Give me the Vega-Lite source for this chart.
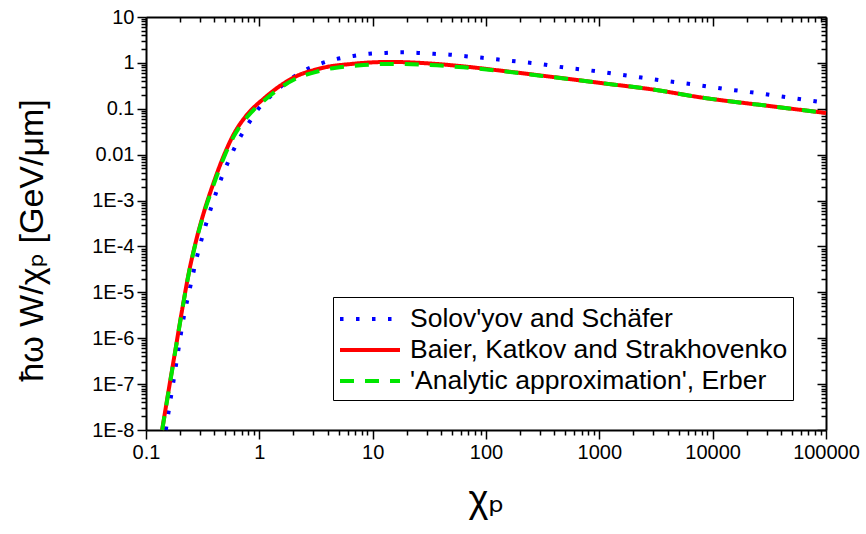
{
  "$schema": "https://vega.github.io/schema/vega-lite/v6.json",
  "width": 680,
  "height": 413,
  "autosize": {"type": "none"},
  "padding": {"left": 146, "top": 17, "right": 40, "bottom": 104},
  "background": "white",
  "config": {"view": {"stroke": null}, "font": "Liberation Sans"},
  "data": {"values": [
    {"x": 0.1496, "y": 1e-8, "s": "Solov'yov and Schäfer"},
    {"x": 0.155, "y": 1.8e-8, "s": "Solov'yov and Schäfer"},
    {"x": 0.172, "y": 9.1e-8, "s": "Solov'yov and Schäfer"},
    {"x": 0.191, "y": 4.7e-7, "s": "Solov'yov and Schäfer"},
    {"x": 0.212, "y": 2.34e-6, "s": "Solov'yov and Schäfer"},
    {"x": 0.243, "y": 1.17e-5, "s": "Solov'yov and Schäfer"},
    {"x": 0.282, "y": 6.0e-5, "s": "Solov'yov and Schäfer"},
    {"x": 0.339, "y": 3.1e-4, "s": "Solov'yov and Schäfer"},
    {"x": 0.418, "y": 1.55e-3, "s": "Solov'yov and Schäfer"},
    {"x": 0.472, "y": 3.5e-3, "s": "Solov'yov and Schäfer"},
    {"x": 0.543, "y": 7.9e-3, "s": "Solov'yov and Schäfer"},
    {"x": 0.635, "y": 0.018, "s": "Solov'yov and Schäfer"},
    {"x": 0.773, "y": 0.041, "s": "Solov'yov and Schäfer"},
    {"x": 0.959, "y": 0.093, "s": "Solov'yov and Schäfer"},
    {"x": 1.26, "y": 0.19, "s": "Solov'yov and Schäfer"},
    {"x": 1.78, "y": 0.40, "s": "Solov'yov and Schäfer"},
    {"x": 2.49, "y": 0.68, "s": "Solov'yov and Schäfer"},
    {"x": 3.44, "y": 0.955, "s": "Solov'yov and Schäfer"},
    {"x": 4.84, "y": 1.22, "s": "Solov'yov and Schäfer"},
    {"x": 6.7, "y": 1.41, "s": "Solov'yov and Schäfer"},
    {"x": 9.33, "y": 1.58, "s": "Solov'yov and Schäfer"},
    {"x": 13.0, "y": 1.65, "s": "Solov'yov and Schäfer"},
    {"x": 18.2, "y": 1.7, "s": "Solov'yov and Schäfer"},
    {"x": 25.1, "y": 1.65, "s": "Solov'yov and Schäfer"},
    {"x": 34.7, "y": 1.58, "s": "Solov'yov and Schäfer"},
    {"x": 47.9, "y": 1.51, "s": "Solov'yov and Schäfer"},
    {"x": 66.1, "y": 1.4, "s": "Solov'yov and Schäfer"},
    {"x": 93.3, "y": 1.29, "s": "Solov'yov and Schäfer"},
    {"x": 129, "y": 1.18, "s": "Solov'yov and Schäfer"},
    {"x": 182, "y": 1.08, "s": "Solov'yov and Schäfer"},
    {"x": 251, "y": 1.0, "s": "Solov'yov and Schäfer"},
    {"x": 479, "y": 0.8, "s": "Solov'yov and Schäfer"},
    {"x": 933, "y": 0.66, "s": "Solov'yov and Schäfer"},
    {"x": 1820, "y": 0.525, "s": "Solov'yov and Schäfer"},
    {"x": 3510, "y": 0.417, "s": "Solov'yov and Schäfer"},
    {"x": 6760, "y": 0.339, "s": "Solov'yov and Schäfer"},
    {"x": 13000, "y": 0.269, "s": "Solov'yov and Schäfer"},
    {"x": 25100, "y": 0.219, "s": "Solov'yov and Schäfer"},
    {"x": 47900, "y": 0.174, "s": "Solov'yov and Schäfer"},
    {"x": 100000, "y": 0.135, "s": "Solov'yov and Schäfer"},

    {"x": 0.1387, "y": 1e-8, "s": "Baier, Katkov and Strakhovenko"},
    {"x": 0.1585, "y": 7.4e-8, "s": "Baier, Katkov and Strakhovenko"},
    {"x": 0.1816, "y": 5.5e-7, "s": "Baier, Katkov and Strakhovenko"},
    {"x": 0.208, "y": 4.07e-6, "s": "Baier, Katkov and Strakhovenko"},
    {"x": 0.238, "y": 2.57e-5, "s": "Baier, Katkov and Strakhovenko"},
    {"x": 0.273, "y": 1.17e-4, "s": "Baier, Katkov and Strakhovenko"},
    {"x": 0.323, "y": 5.4e-4, "s": "Baier, Katkov and Strakhovenko"},
    {"x": 0.395, "y": 2.45e-3, "s": "Baier, Katkov and Strakhovenko"},
    {"x": 0.484, "y": 9.3e-3, "s": "Baier, Katkov and Strakhovenko"},
    {"x": 0.593, "y": 0.0275, "s": "Baier, Katkov and Strakhovenko"},
    {"x": 0.778, "y": 0.074, "s": "Baier, Katkov and Strakhovenko"},
    {"x": 1.09, "y": 0.165, "s": "Baier, Katkov and Strakhovenko"},
    {"x": 1.53, "y": 0.318, "s": "Baier, Katkov and Strakhovenko"},
    {"x": 2.22, "y": 0.54, "s": "Baier, Katkov and Strakhovenko"},
    {"x": 3.0, "y": 0.69, "s": "Baier, Katkov and Strakhovenko"},
    {"x": 4.2, "y": 0.84, "s": "Baier, Katkov and Strakhovenko"},
    {"x": 6.0, "y": 0.93, "s": "Baier, Katkov and Strakhovenko"},
    {"x": 8.3, "y": 1.0, "s": "Baier, Katkov and Strakhovenko"},
    {"x": 14.3, "y": 1.05, "s": "Baier, Katkov and Strakhovenko"},
    {"x": 32, "y": 0.97, "s": "Baier, Katkov and Strakhovenko"},
    {"x": 63, "y": 0.84, "s": "Baier, Katkov and Strakhovenko"},
    {"x": 133, "y": 0.68, "s": "Baier, Katkov and Strakhovenko"},
    {"x": 316, "y": 0.525, "s": "Baier, Katkov and Strakhovenko"},
    {"x": 1015, "y": 0.366, "s": "Baier, Katkov and Strakhovenko"},
    {"x": 3162, "y": 0.257, "s": "Baier, Katkov and Strakhovenko"},
    {"x": 7730, "y": 0.178, "s": "Baier, Katkov and Strakhovenko"},
    {"x": 31623, "y": 0.115, "s": "Baier, Katkov and Strakhovenko"},
    {"x": 100000, "y": 0.081, "s": "Baier, Katkov and Strakhovenko"},

    {"x": 0.139, "y": 1e-8, "s": "'Analytic approximation', Erber"},
    {"x": 0.159, "y": 7.4e-8, "s": "'Analytic approximation', Erber"},
    {"x": 0.182, "y": 5.5e-7, "s": "'Analytic approximation', Erber"},
    {"x": 0.2085, "y": 4.07e-6, "s": "'Analytic approximation', Erber"},
    {"x": 0.2385, "y": 2.57e-5, "s": "'Analytic approximation', Erber"},
    {"x": 0.274, "y": 1.17e-4, "s": "'Analytic approximation', Erber"},
    {"x": 0.324, "y": 5.2e-4, "s": "'Analytic approximation', Erber"},
    {"x": 0.397, "y": 2.3e-3, "s": "'Analytic approximation', Erber"},
    {"x": 0.486, "y": 8.6e-3, "s": "'Analytic approximation', Erber"},
    {"x": 0.595, "y": 0.025, "s": "'Analytic approximation', Erber"},
    {"x": 0.78, "y": 0.066, "s": "'Analytic approximation', Erber"},
    {"x": 1.09, "y": 0.148, "s": "'Analytic approximation', Erber"},
    {"x": 1.53, "y": 0.285, "s": "'Analytic approximation', Erber"},
    {"x": 2.22, "y": 0.482, "s": "'Analytic approximation', Erber"},
    {"x": 3.0, "y": 0.615, "s": "'Analytic approximation', Erber"},
    {"x": 4.2, "y": 0.75, "s": "'Analytic approximation', Erber"},
    {"x": 6.0, "y": 0.84, "s": "'Analytic approximation', Erber"},
    {"x": 8.3, "y": 0.9, "s": "'Analytic approximation', Erber"},
    {"x": 14.3, "y": 0.95, "s": "'Analytic approximation', Erber"},
    {"x": 32, "y": 0.9, "s": "'Analytic approximation', Erber"},
    {"x": 63, "y": 0.8, "s": "'Analytic approximation', Erber"},
    {"x": 133, "y": 0.67, "s": "'Analytic approximation', Erber"},
    {"x": 316, "y": 0.52, "s": "'Analytic approximation', Erber"},
    {"x": 1015, "y": 0.366, "s": "'Analytic approximation', Erber"},
    {"x": 3162, "y": 0.257, "s": "'Analytic approximation', Erber"},
    {"x": 7730, "y": 0.178, "s": "'Analytic approximation', Erber"},
    {"x": 31623, "y": 0.115, "s": "'Analytic approximation', Erber"},
    {"x": 100000, "y": 0.081, "s": "'Analytic approximation', Erber"}
  ]},
  "encoding": {
    "color": {
      "field": "s", "type": "nominal",
      "scale": {"domain": ["Solov'yov and Schäfer", "Baier, Katkov and Strakhovenko", "'Analytic approximation', Erber"], "range": ["#0000ff", "#ff0000", "#00e600"]},
      "legend": {"orient": "none", "legendX": 187, "legendY": 280, "direction": "vertical", "title": null, "strokeColor": "black", "fillColor": "white", "padding": 5, "symbolType": "M-2,0H2", "symbolSize": 900, "symbolOffset": 15, "symbolStrokeWidth": 4, "labelFontSize": 26.5, "labelFont": "Liberation Sans", "labelColor": "black", "labelLimit": 0, "rowPadding": 0, "labelOffset": 23}
    },
    "strokeDash": {
      "field": "s", "type": "nominal",
      "scale": {"domain": ["Solov'yov and Schäfer", "Baier, Katkov and Strakhovenko", "'Analytic approximation', Erber"], "range": [[3.5, 12.5], [1, 0], [14, 11]]},
      "legend": {"orient": "none", "legendX": 187, "legendY": 280, "direction": "vertical", "title": null, "strokeColor": "black", "fillColor": "white", "padding": 5, "symbolType": "M-2,0H2", "symbolSize": 900, "symbolOffset": 15, "symbolStrokeWidth": 4, "labelFontSize": 26.5, "labelFont": "Liberation Sans", "labelColor": "black", "labelLimit": 0, "rowPadding": 0, "labelOffset": 23}
    }
  },
  "layer": [
    {
      "transform": [{"filter": "datum.s === \"Solov'yov and Schäfer\""}],
      "mark": {"type": "line", "strokeWidth": 4, "interpolate": "monotone"},
      "encoding": {
        "x": {"field": "x", "type": "quantitative",
          "scale": {"type": "log", "domain": [0.1, 100000], "nice": false},
          "axis": {"orient": "bottom", "grid": false,
            "values": [0.1,0.2,0.3,0.4,0.5,0.6,0.7,0.8,0.9,1,2,3,4,5,6,7,8,9,10,20,30,40,50,60,70,80,90,100,200,300,400,500,600,700,800,900,1000,2000,3000,4000,5000,6000,7000,8000,9000,10000,20000,30000,40000,50000,60000,70000,80000,90000,100000],
            "labelExpr": "abs(log(datum.value)/LN10 - round(log(datum.value)/LN10)) < 1e-6 ? '' + datum.value : ''",
            "tickSize": {"condition": {"test": "abs(log(datum.value)/LN10 - round(log(datum.value)/LN10)) < 1e-6", "value": 9}, "value": 5},
            "tickColor": "black", "tickWidth": 1.5, "domainColor": "black", "domainWidth": 2,
            "labelFont": "Liberation Sans", "labelFontSize": 20, "labelColor": "black", "labelPadding": 3, "labelFlush": false, "labelOverlap": false,
            "title": "χₚ", "titleFont": "Liberation Sans, DejaVu Sans", "titleFontSize": 38, "titleFontWeight": "normal", "titleColor": "black", "titleBaseline": "middle", "titleY": 70}},
        "y": {"field": "y", "type": "quantitative",
          "scale": {"type": "log", "domain": [1e-8, 10], "nice": false},
          "axis": {"orient": "left", "grid": false,
            "values": [1e-8,2e-8,3e-8,4e-8,5e-8,6e-8,7e-8,8e-8,9e-8,1e-7,2e-7,3e-7,4e-7,5e-7,6e-7,7e-7,8e-7,9e-7,1e-6,2e-6,3e-6,4e-6,5e-6,6e-6,7e-6,8e-6,9e-6,1e-5,2e-5,3e-5,4e-5,5e-5,6e-5,7e-5,8e-5,9e-5,1e-4,2e-4,3e-4,4e-4,5e-4,6e-4,7e-4,8e-4,9e-4,0.001,0.002,0.003,0.004,0.005,0.006,0.007,0.008,0.009,0.01,0.02,0.03,0.04,0.05,0.06,0.07,0.08,0.09,0.1,0.2,0.3,0.4,0.5,0.6,0.7,0.8,0.9,1,2,3,4,5,6,7,8,9,10],
            "labelExpr": "abs(log(datum.value)/LN10 - round(log(datum.value)/LN10)) < 1e-6 ? (datum.value >= 0.01 ? '' + datum.value : '1E' + round(log(datum.value)/LN10)) : ''",
            "tickSize": {"condition": {"test": "abs(log(datum.value)/LN10 - round(log(datum.value)/LN10)) < 1e-6", "value": 9}, "value": 5},
            "tickColor": "black", "tickWidth": 1.5, "domainColor": "black", "domainWidth": 2,
            "labelFont": "Liberation Sans", "labelFontSize": 20, "labelColor": "black", "labelPadding": 3, "labelFlush": false, "labelOverlap": false,
            "title": "ħω W/χₚ [GeV/μm]", "titleFont": "Liberation Sans, DejaVu Sans", "titleFontSize": 34, "titleFontWeight": "normal", "titleColor": "black", "titleBaseline": "middle", "titleX": -114, "titleY": 223}}
      }
    },
    {
      "transform": [{"filter": "datum.s === 'Baier, Katkov and Strakhovenko'"}],
      "mark": {"type": "line", "strokeWidth": 4, "interpolate": "monotone"},
      "encoding": {
        "x": {"field": "x", "type": "quantitative", "scale": {"type": "log", "domain": [0.1, 100000], "nice": false}, "axis": null},
        "y": {"field": "y", "type": "quantitative", "scale": {"type": "log", "domain": [1e-8, 10], "nice": false}, "axis": null}
      }
    },
    {
      "transform": [{"filter": "datum.s === \"'Analytic approximation', Erber\""}],
      "mark": {"type": "line", "strokeWidth": 4, "interpolate": "monotone"},
      "encoding": {
        "x": {"field": "x", "type": "quantitative", "scale": {"type": "log", "domain": [0.1, 100000], "nice": false}, "axis": null},
        "y": {"field": "y", "type": "quantitative", "scale": {"type": "log", "domain": [1e-8, 10], "nice": false}, "axis": null}
      }
    },
    {
      "transform": [{"filter": "datum.s === 'Baier, Katkov and Strakhovenko'"}],
      "mark": {"type": "line", "opacity": 0},
      "encoding": {
        "x": {"field": "x", "type": "quantitative", "scale": {"type": "log", "domain": [0.1, 100000], "nice": false},
          "axis": {"orient": "top", "grid": false, "labels": false, "title": null,
            "values": [0.1,0.2,0.3,0.4,0.5,0.6,0.7,0.8,0.9,1,2,3,4,5,6,7,8,9,10,20,30,40,50,60,70,80,90,100,200,300,400,500,600,700,800,900,1000,2000,3000,4000,5000,6000,7000,8000,9000,10000,20000,30000,40000,50000,60000,70000,80000,90000,100000],
            "tickSize": {"condition": {"test": "abs(log(datum.value)/LN10 - round(log(datum.value)/LN10)) < 1e-6", "value": -9}, "value": -5},
            "tickColor": "black", "tickWidth": 1.5, "domainColor": "black", "domainWidth": 2}},
        "y": {"field": "y", "type": "quantitative", "scale": {"type": "log", "domain": [1e-8, 10], "nice": false},
          "axis": {"orient": "right", "grid": false, "labels": false, "title": null,
            "values": [1e-8,2e-8,3e-8,4e-8,5e-8,6e-8,7e-8,8e-8,9e-8,1e-7,2e-7,3e-7,4e-7,5e-7,6e-7,7e-7,8e-7,9e-7,1e-6,2e-6,3e-6,4e-6,5e-6,6e-6,7e-6,8e-6,9e-6,1e-5,2e-5,3e-5,4e-5,5e-5,6e-5,7e-5,8e-5,9e-5,1e-4,2e-4,3e-4,4e-4,5e-4,6e-4,7e-4,8e-4,9e-4,0.001,0.002,0.003,0.004,0.005,0.006,0.007,0.008,0.009,0.01,0.02,0.03,0.04,0.05,0.06,0.07,0.08,0.09,0.1,0.2,0.3,0.4,0.5,0.6,0.7,0.8,0.9,1,2,3,4,5,6,7,8,9,10],
            "tickSize": {"condition": {"test": "abs(log(datum.value)/LN10 - round(log(datum.value)/LN10)) < 1e-6", "value": -9}, "value": -5},
            "tickColor": "black", "tickWidth": 1.5, "domainColor": "black", "domainWidth": 2}}
      }
    }
  ],
  "resolve": {"axis": {"x": "independent", "y": "independent"}}
}
